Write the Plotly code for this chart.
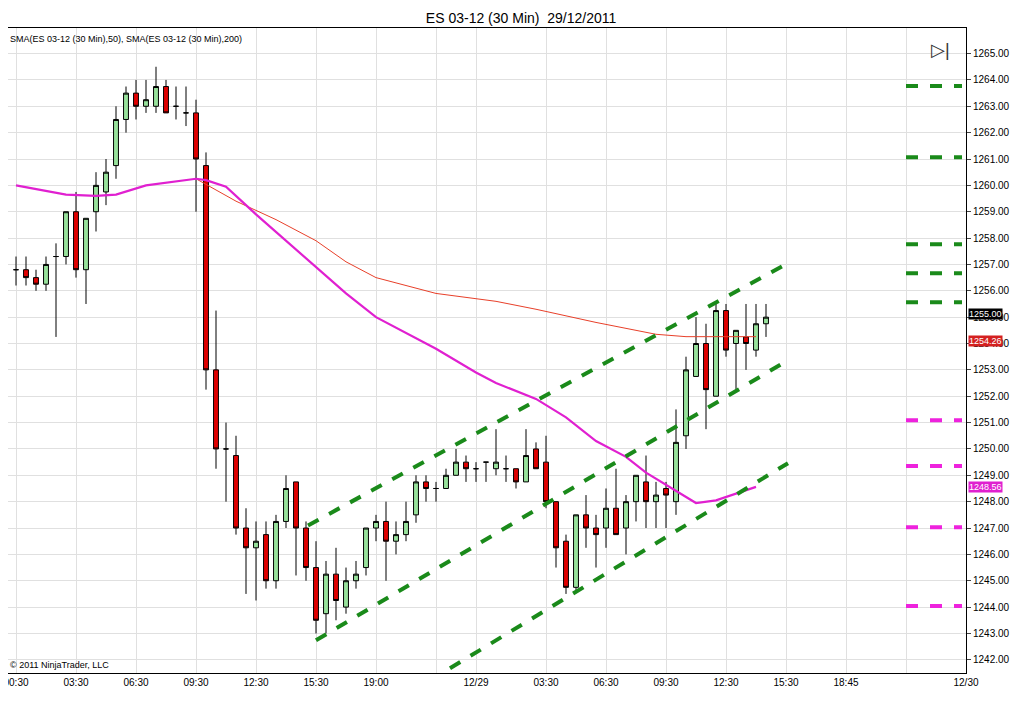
import plotly.graph_objects as go

# 30 min bars, index 0 = 28/12 00:30
bar_open = [1256.8, 1256.8, 1256.5, 1256.25, 1257.3, 1257.3, 1259.0, 1256.8, 1259.0, 1259.75,
            1260.75, 1262.5, 1263.5, 1263.0, 1263.0, 1263.75, 1263.0, 1262.75, 1262.75, 1260.75,
            1253.0, 1250.0, 1249.75, 1247.0, 1246.25, 1246.75, 1245.0, 1247.25, 1248.75, 1247.0,
            1245.5, 1243.75, 1245.25, 1244.0, 1245.0, 1245.5, 1247.0, 1247.25, 1246.5, 1246.75,
            1247.5, 1248.75, 1248.5, 1248.5, 1249.0, 1249.5, 1249.25, 1249.5, 1249.25, 1249.25,
            1249.25, 1248.75, 1250.0, 1249.5, 1248.0, 1246.5, 1244.75, 1247.5, 1247.0, 1247.0,
            1247.75, 1247.0, 1248.0, 1248.75, 1248.0, 1248.5, 1248.0, 1250.5, 1252.75, 1254.0,
            1252.0, 1255.25, 1254.0, 1254.25, 1253.75, 1254.75]
bar_high = [1257.3, 1257.3, 1256.8, 1257.3, 1257.8, 1259.0, 1259.75, 1258.75, 1260.5, 1261.0,
            1263.0, 1263.75, 1264.0, 1264.0, 1264.5, 1264.0, 1263.75, 1263.75, 1263.25, 1261.25,
            1255.25, 1251.0, 1250.5, 1247.75, 1247.25, 1247.25, 1247.5, 1249.0, 1248.75, 1247.25,
            1246.5, 1245.75, 1246.25, 1245.5, 1245.75, 1247.0, 1247.5, 1248.0, 1247.25, 1248.0,
            1249.0, 1249.0, 1248.75, 1249.25, 1250.0, 1249.75, 1249.5, 1249.5, 1250.75, 1249.75,
            1249.25, 1250.75, 1250.25, 1250.5, 1248.0, 1246.75, 1247.5, 1248.25, 1247.5, 1248.5,
            1249.25, 1248.25, 1249.0, 1249.75, 1248.75, 1248.75, 1251.5, 1253.5, 1255.0, 1254.75,
            1255.5, 1255.5, 1254.5, 1255.5, 1255.5, 1255.5]
bar_low = [1256.2, 1256.2, 1256.0, 1256.0, 1254.25, 1257.0, 1256.5, 1255.5, 1258.25, 1259.25,
           1260.25, 1262.0, 1262.5, 1262.75, 1262.75, 1262.75, 1262.5, 1262.25, 1259.0, 1252.25,
           1249.25, 1248.0, 1246.75, 1244.5, 1244.25, 1244.7, 1244.7, 1247.0, 1245.2, 1245.0,
           1243.0, 1243.0, 1243.5, 1243.75, 1244.7, 1245.2, 1246.5, 1245.0, 1246.0, 1246.5,
           1247.2, 1248.0, 1248.0, 1248.5, 1249.0, 1248.75, 1248.75, 1248.75, 1249.0, 1248.75,
           1248.5, 1248.75, 1249.25, 1247.75, 1245.5, 1244.5, 1244.6, 1246.25, 1245.5, 1246.25,
           1246.75, 1246.0, 1247.25, 1247.0, 1247.0, 1247.0, 1247.5, 1250.0, 1252.75, 1250.75,
           1252.0, 1253.5, 1252.25, 1253.0, 1253.5, 1254.25]
bar_close = [1256.8, 1256.5, 1256.25, 1257.0, 1257.3, 1259.0, 1256.8, 1258.75, 1260.0, 1260.5,
             1262.5, 1263.5, 1263.0, 1263.25, 1263.75, 1262.75, 1263.0, 1262.75, 1261.0, 1253.0,
             1250.0, 1250.0, 1247.0, 1246.25, 1246.5, 1245.0, 1247.25, 1248.5, 1247.0, 1245.5,
             1243.5, 1245.25, 1244.25, 1245.0, 1245.25, 1247.0, 1247.25, 1246.5, 1246.75, 1247.25,
             1248.75, 1248.5, 1248.5, 1249.0, 1249.5, 1249.25, 1249.25, 1249.5, 1249.5, 1249.25,
             1248.75, 1249.75, 1249.25, 1248.0, 1246.25, 1244.75, 1247.5, 1247.0, 1246.75, 1247.75,
             1246.75, 1248.0, 1249.0, 1248.0, 1248.25, 1248.25, 1250.25, 1253.0, 1254.0, 1252.25,
             1255.25, 1253.75, 1254.5, 1254.0, 1254.75, 1255.0]

sma50_idx = [0, 5, 8, 10, 13, 18, 19, 21, 24, 27, 30, 33, 36, 39, 42, 46, 48, 52, 55, 58, 61, 63, 66, 68, 70, 72, 74]
sma50_val = [1260.0, 1259.65, 1259.6, 1259.65, 1260.0, 1260.25, 1260.2, 1259.95, 1258.9, 1257.9,
             1256.9, 1255.9, 1255.0, 1254.4, 1253.8, 1252.9, 1252.5, 1251.9, 1251.2, 1250.3,
             1249.7, 1249.1, 1248.4, 1247.95, 1248.05, 1248.3, 1248.56]
sma200_idx = [18, 22, 26, 30, 33, 36, 42, 48, 52, 58, 64, 67, 74]
sma200_val = [1260.25, 1259.4, 1258.7, 1257.9, 1257.1, 1256.5, 1255.9, 1255.6, 1255.3, 1254.8, 1254.35,
              1254.26, 1254.26]

# hand-drawn channel lines (start idx, start price, end idx, end price)
channels = [(29.2, 1247.1, 77.2, 1257.05), (30.0, 1242.74, 77.2, 1253.37), (43.4, 1241.68, 77.2, 1249.46)]
green_levels = [1263.77, 1261.07, 1257.77, 1256.67, 1255.57]
pink_levels = [1251.09, 1249.35, 1247.03, 1244.04]

tick_idx = [0, 6, 12, 18, 24, 30, 36, 42, 46, 53, 59, 65, 71, 77, 83, 89, 95]
tick_txt = ["00:30", "03:30", "06:30", "09:30", "12:30", "15:30", "19:00", "", "12/29", "03:30",
            "06:30", "09:30", "12:30", "15:30", "18:45", "", "12/30"]

x = list(range(len(bar_open)))
fig = go.Figure()
fig.add_trace(go.Candlestick(
    x=x, open=bar_open, high=bar_high, low=bar_low, close=bar_close,
    increasing=dict(fillcolor="#98e29c", line=dict(color="black", width=1)),
    decreasing=dict(fillcolor="#e00000", line=dict(color="black", width=1)),
    whiskerwidth=0, showlegend=False))
fig.add_trace(go.Scatter(x=sma200_idx, y=sma200_val, mode="lines", line=dict(color="#e8402a", width=1),
                         showlegend=False))
fig.add_trace(go.Scatter(x=sma50_idx, y=sma50_val, mode="lines", line=dict(color="#e020d0", width=2.2),
                         showlegend=False))
for x0, y0, x1, y1 in channels:
    fig.add_trace(go.Scatter(x=[x0, x1], y=[y0, y1], mode="lines", showlegend=False,
                             line=dict(color="#1a8a1a", width=4, dash="dash")))
for lv in green_levels:
    fig.add_trace(go.Scatter(x=[89, 94.6], y=[lv, lv], mode="lines", showlegend=False,
                             line=dict(color="#1a8a1a", width=4, dash="dash")))
for lv in pink_levels:
    fig.add_trace(go.Scatter(x=[89, 94.6], y=[lv, lv], mode="lines", showlegend=False,
                             line=dict(color="#ee22dd", width=4, dash="dash")))

# price flags on the axis
for val, bg, dy in [(bar_close[-1], "black", 3), (sma200_val[-1], "#d42020", -4), (sma50_val[-1], "#e020d0", 0)]:
    fig.add_annotation(x=1, xref="paper", y=val, text=f"{val:.2f}", showarrow=False, xanchor="left",
                       xshift=2, yshift=dy, bgcolor=bg, font=dict(color="white", size=9, family="Arial"),
                       borderpad=0)

fig.update_layout(
    width=1016, height=707, plot_bgcolor="white", paper_bgcolor="white",
    margin=dict(l=0, r=58, t=20, b=42, autoexpand=False),
    title=dict(text="ES 03-12 (30 Min)  29/12/2011", x=0.505, y=0.993, xanchor="center",
               font=dict(size=14, color="black", family="Arial")),
    font=dict(family="Arial", size=10, color="black"),
    xaxis=dict(range=[-0.8, 95.0], tickvals=tick_idx, ticktext=tick_txt, showgrid=True,
               gridcolor="#e0e0e0", rangeslider=dict(visible=False), showline=True, linecolor="black",
               mirror=True, ticks="", tickfont=dict(size=10), zeroline=False,
               ticklabeloverflow="allow"),
    yaxis=dict(range=[1241.5, 1265.97], side="right", dtick=1, tickformat=".2f", showgrid=True,
               gridcolor="#e0e0e0", showline=True, linecolor="black", mirror=True, ticks="outside",
               ticklen=4, tickfont=dict(size=10), zeroline=False),
)
fig.add_annotation(x=0, xref="paper", y=1, yref="paper", text="SMA(ES 03-12 (30 Min),50), SMA(ES 03-12 (30 Min),200)",
                   showarrow=False, xanchor="left", yanchor="top", xshift=0, yshift=-4, font=dict(size=9))
fig.add_annotation(x=0, xref="paper", y=0, yref="paper", text="© 2011 NinjaTrader, LLC",
                   showarrow=False, xanchor="left", yanchor="bottom", xshift=0, yshift=1, font=dict(size=9))
fig.add_annotation(x=0.985, xref="paper", y=0.985, yref="paper", text="▷|", showarrow=False,
                   xanchor="right", yanchor="top", font=dict(size=18, color="#333"))
fig.write_html("out.html")
